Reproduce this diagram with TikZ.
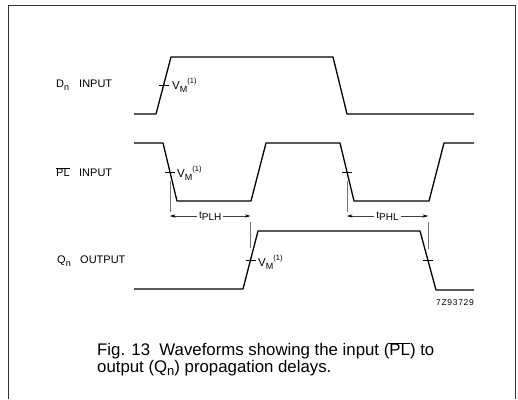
\documentclass[tikz,border=0pt]{standalone}
\usepackage{fontspec}
\setmainfont{Liberation Sans}
\usetikzlibrary{arrows.meta}
\newcommand{\lowr}[1]{\raisebox{-0.45ex}{\fontsize{9}{9}\selectfont #1}}
\newcommand{\highr}[1]{\raisebox{1.0ex}{\fontsize{7.5}{8}\selectfont #1}}
\newcommand{\tsub}[1]{\raisebox{-0.4ex}{\fontsize{10}{11}\selectfont #1}}
\newcommand{\capsub}[1]{\raisebox{-0.4ex}{\fontsize{13}{14}\selectfont #1}}
\newcommand{\signame}[2]{\makebox[23pt][l]{#1}#2}
\begin{document}
\begin{tikzpicture}[x=1pt,y=-1pt,
  wave/.style={line width=1.3pt, line join=round},
  framel/.style={line width=0.9pt, black!80},
  dimline/.style={line width=0.45pt, black!55},
  tickl/.style={line width=0.8pt},
  lbl/.style={font=\fontsize{11}{12}\selectfont, anchor=west, inner sep=0pt},
  vm/.style={font=\fontsize{11.5}{12}\selectfont, anchor=west, inner sep=0pt},
  tlab/.style={font=\fontsize{10}{11}\selectfont, text=black, fill=white, inner sep=2pt},
  dimarrow/.style={line width=0.5pt, black!75, {Stealth[length=5.5pt,width=3.2pt,black]}-{Stealth[length=5.5pt,width=3.2pt,black]}},
  capt/.style={font=\fontsize{16.8}{15}\selectfont, anchor=north west, inner sep=0pt, align=left}
]
\useasboundingbox (0,0) rectangle (518,399);
% frame (open at the bottom)
\draw[framel] (8,399) -- (8,5) -- (515,5) -- (515,399);

% waveforms
\draw[wave] (134,114) -- (156,114) -- (171,57) -- (333,57) -- (347,114) -- (474,114);
\draw[wave] (134,143) -- (163,143) -- (177,201) -- (251,201) -- (266,143)
            -- (340,143) -- (354,201) -- (429,201) -- (444,143) -- (474,143);
\draw[wave] (134,289) -- (243,289) -- (258,231) -- (420,231) -- (436,290) -- (474,290);

% measurement points
\coordinate (tD)  at (163.5,85.5);
\coordinate (tP1) at (170,172);
\coordinate (tP2) at (347,172);
\coordinate (tQ1) at (250.5,260);
\coordinate (tQ2) at (428,260.5);
\foreach \c in {tD,tP1,tP2,tQ1,tQ2}
  \draw[tickl] ([xshift=-5pt]\c) -- ([xshift=5pt]\c);

% dimension lines
\coordinate (aL1) at (170,216);
\coordinate (aR1) at (250.5,216);
\coordinate (aL2) at (347,216);
\coordinate (aR2) at (428,216);
\draw[dimline] ([yshift=-9pt]tP1) -- ([yshift=4pt]aL1);
\draw[dimline] ([yshift=-6pt]aR1) -- ([yshift=12pt]tQ1);
\draw[dimline] ([yshift=-9pt]tP2) -- ([yshift=4pt]aL2);
\draw[dimline] ([yshift=-6pt]aR2) -- ([yshift=12pt]tQ2);
\draw[dimarrow] (aL1) -- (aR1) node[tlab, midway] (lplh) {t\tsub{PLH}};
\draw[dimarrow] (aL2) -- (aR2) node[tlab, midway] (lphl) {t\tsub{PHL}};

% V_M labels
\node[vm] (vm1) at (172,85) {V\lowr{M}\highr{(1)}};
\node[vm] (vm2) at (177,173) {V\lowr{M}\highr{(1)}};
\node[vm] (vm3) at (258,262) {V\lowr{M}\highr{(1)}};

% signal names
\node[lbl] (ldn) at (56,85) {\signame{D\lowr{n}}{INPUT}};
\node[lbl] (lpl) at (56,172) {\signame{$\overline{\mbox{PL}}$}{INPUT}};
\node[lbl] (lqn) at (57,261) {\signame{Q\lowr{n}}{OUTPUT}};

% code
\node[font=\fontsize{8.5}{9}\addfontfeature{LetterSpace=8}\selectfont, anchor=east, inner sep=0pt] (code) at (474,303) {7Z93729};

% caption
\node[capt] (cap) at (97,342) {Fig. 13\ \ Waveforms showing the input ($\overline{\mbox{PL}}$) to\\output (Q\capsub{n}) propagation delays.};
\end{tikzpicture}
\end{document}
